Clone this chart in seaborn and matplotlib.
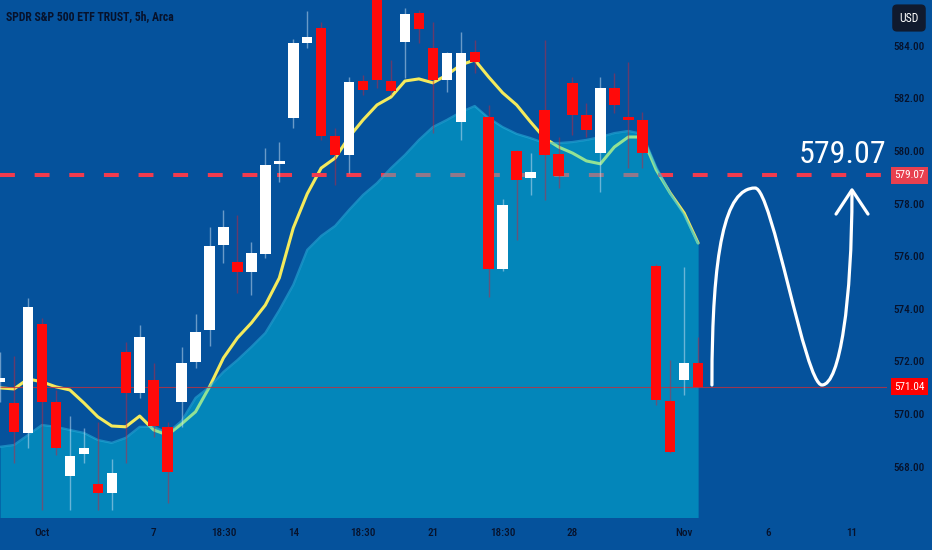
import numpy as np
import pandas as pd
import matplotlib
matplotlib.use("Agg")
import matplotlib.pyplot as plt
import seaborn as sns
from matplotlib import font_manager
from matplotlib.path import Path
from matplotlib.patches import PathPatch
import matplotlib.transforms as mtransforms

# ---------------- data ----------------
title = "SPDR S&P 500 ETF TRUST, 5h, Arca"

opens = [571.22, 570.42, 569.28, 573.42, 570.46, 567.64, 568.48, 567.34, 567.00, 572.36,
         570.80, 571.29, 569.51, 570.46, 571.98, 573.19, 576.43, 575.78, 575.40, 576.08,
         579.51, 581.25, 584.11, 584.68, 580.57, 579.85, 582.66, 585.93, 582.66, 584.14,
         585.25, 583.92, 582.70, 581.10, 583.76, 581.29, 575.51, 580.00, 578.97, 581.56,
         579.89, 582.59, 581.37, 579.92, 582.40, 581.29, 581.18, 575.63, 570.49, 571.29,
         571.94]
highs = [572.36, 572.21, 574.41, 573.65, 570.91, 569.92, 569.47, 569.70, 568.29, 572.74,
         573.38, 571.94, 569.70, 572.55, 573.80, 577.11, 577.76, 577.57, 576.54, 580.11,
         580.34, 584.26, 585.32, 584.90, 580.87, 582.81, 582.89, 586.12, 583.46, 585.44,
         585.36, 584.90, 583.76, 584.52, 584.22, 581.75, 578.17, 580.05, 579.92, 584.22,
         580.53, 582.81, 581.83, 582.81, 582.97, 583.38, 581.48, 575.70, 572.05, 575.59,
         572.93]
lows = [570.46, 568.14, 568.71, 566.35, 568.44, 566.35, 568.14, 566.35, 566.35, 568.14,
        570.61, 569.13, 566.62, 569.51, 571.75, 572.59, 575.74, 574.60, 574.52, 575.93,
        578.82, 580.87, 583.92, 580.42, 578.71, 579.16, 582.13, 582.40, 582.13, 582.78,
        584.11, 580.68, 582.24, 580.42, 582.97, 574.45, 575.44, 576.62, 578.33, 578.14,
        578.59, 580.61, 580.53, 578.44, 581.44, 579.35, 579.35, 570.34, 568.50, 570.72,
        571.03]
closes = [571.37, 569.32, 574.07, 570.46, 568.71, 568.40, 568.71, 567.00, 567.76, 570.80,
          572.93, 569.54, 567.79, 571.94, 573.12, 576.39, 577.11, 575.40, 576.12, 579.47,
          579.62, 584.11, 584.33, 580.57, 579.85, 582.62, 582.32, 582.70, 582.28, 585.21,
          584.64, 582.70, 583.73, 583.73, 583.38, 575.51, 577.95, 578.90, 579.20, 579.85,
          579.05, 581.37, 580.80, 582.40, 581.75, 581.18, 579.92, 570.53, 568.56, 571.94,
          571.04]
ema_fast = [570.99, 570.95, 571.33, 571.22, 571.03, 570.91, 570.42, 569.89, 569.54, 569.51,
            569.92, 569.39, 569.20, 569.62, 570.08, 571.03, 572.13, 572.89, 573.46, 574.14,
            575.17, 577.07, 578.37, 579.35, 579.73, 580.53, 581.18, 581.75, 582.05, 582.66,
            582.74, 582.59, 582.89, 583.27, 583.46, 582.81, 582.21, 581.75, 581.10, 580.49,
            580.15, 579.92, 579.62, 579.51, 580.15, 580.53, 580.53, 579.28, 578.40, 577.64,
            576.50]
area_slow = [568.75, 568.82, 569.20, 569.58, 569.51, 569.39, 569.28, 569.01, 568.90, 569.09,
             569.51, 569.51, 569.28, 569.73, 570.61, 571.03, 571.60, 572.05, 572.55, 573.08,
             573.95, 574.91, 576.24, 576.77, 577.15, 577.76, 578.33, 578.78, 579.35, 579.85,
             580.42, 580.91, 581.18, 581.48, 581.71, 581.25, 580.91, 580.65, 580.49, 580.30,
             580.30, 580.34, 580.42, 580.53, 580.68, 580.76, 580.65, 579.39, 578.40, 577.57,
             576.50]

last_price = 571.04
target_price = 579.07
target_text = "579.07"
currency = "USD"

y_ticks = [568, 570, 572, 574, 576, 578, 580, 582, 584]
x_tick_pos = [3, 11, 16, 21, 26, 31, 36, 41, 49, 55, 61]
x_tick_labels = ["Oct", "7", "18:30", "14", "18:30", "21", "18:30", "28", "Nov", "6", "11"]

# hand-drawn projection (bar index, price): start, peak, trough, end
proj_start = (50.99, 571.10)
proj_peak = (54.08, 578.59)
proj_trough = (58.87, 571.10)
proj_end = (61.02, 578.44)

# ---------------- style ----------------
BG = "#05529c"
FILL = "#00d6e9"
EDGE = "#2ab6de"
YEL = "#f4ea5c"
RED = "#ff0a0a"
DASH = "#f23b4e"
TXT = "#07122b"

sns.set_theme(style="dark", rc={
    "axes.facecolor": BG, "figure.facecolor": BG,
    "axes.edgecolor": BG, "grid.color": BG,
})

fonts = font_manager.fontManager.ttflist
cond = None
for nm in ["Roboto Condensed", "Liberation Sans Narrow", "Open Sans Condensed"]:
    if any(f.name == nm for f in fonts):
        cond = nm
        break
stretch = "normal"
if cond is None:
    if any(f.name == "DejaVu Sans" and f.stretch == "condensed" for f in fonts):
        cond, stretch = "DejaVu Sans", "condensed"
    else:
        cond = "Roboto"
plt.rcParams["font.family"] = [cond, "DejaVu Sans"]
plt.rcParams["font.stretch"] = stretch

fig = plt.figure(figsize=(9.32, 5.5), dpi=100)
ax = fig.add_axes([0, 33 / 550, 887 / 932, 517 / 550])
ax.set_facecolor(BG)

n = len(closes)
idx = np.arange(n)
df = pd.DataFrame({"bar": idx, "ema": ema_fast, "area": area_slow,
                   "open": opens, "high": highs, "low": lows, "close": closes})

# fast average line (under the translucent area)
sns.lineplot(data=df, x="bar", y="ema", ax=ax, color=YEL, lw=2.2, zorder=2,
             legend=False)

# target dashed line + last price thin line
ax.axhline(target_price, color=DASH, lw=2.9, ls=(0, (3.7, 4.9)), zorder=2)
ax.axhline(last_price, color="#c0303f", lw=0.8, alpha=0.8, zorder=3.5)

# slow average area
ymin, ymax = 566.08, 585.74
ax.fill_between(df["bar"], df["area"], ymin - 1, color=FILL, alpha=0.4, lw=0, zorder=3)
sns.lineplot(data=df, x="bar", y="area", ax=ax, color=EDGE, lw=1.6, alpha=0.55,
             zorder=3, legend=False)

# candles
up = df["close"] >= df["open"]
for is_up, col, wcol, walpha in [(True, "white", "#cfe3f5", 0.5), (False, RED, "#c8243c", 0.5)]:
    sub = df[up == is_up]
    ax.vlines(sub["bar"], sub["low"], sub["high"], color=wcol, lw=1.0, alpha=walpha, zorder=4)
    bottom = np.minimum(sub["open"], sub["close"])
    height = np.maximum(np.abs(sub["close"] - sub["open"]), 0.12)
    ax.bar(sub["bar"], height, bottom=bottom, width=0.75, color=col, lw=0, zorder=5)

# projection curve
P0, P1, P2, P3 = proj_start, proj_peak, proj_trough, proj_end
verts = [P0, (P0[0], 576.24), (51.93, P1[1]), P1,
         (55.29, P1[1]), (57.66, P2[1]), P2,
         (60.16, P2[1]), (P3[0], 574.33), P3]
codes = [Path.MOVETO] + [Path.CURVE4] * 9
ax.add_patch(PathPatch(Path(verts, codes), fc="none", ec="white", lw=2.3, zorder=6,
                       capstyle="round"))
tip = (P3[0], P3[1] + 0.08)
ax.plot([59.88, tip[0], 62.17], [577.60, tip[1], 577.60], color="white", lw=2.3,
        zorder=6, solid_capstyle="round", solid_joinstyle="round")
ax.text(60.35, 579.85, target_text, color="white", fontsize=23, ha="center",
        va="center", zorder=7)

# axes
ax.set_xlim(-0.007, 63.53)
ax.set_ylim(ymin, ymax)
ax.yaxis.tick_right()
ax.set_yticks(y_ticks)
ax.set_yticklabels([f"{v:.2f}" for v in y_ticks])
ax.set_xticks(x_tick_pos)
ax.set_xticklabels(x_tick_labels)
ax.tick_params(axis="y", length=0, pad=4.5, labelsize=8, labelcolor=TXT)
ax.tick_params(axis="x", length=0, pad=8, labelsize=8, labelcolor=TXT)
for lab in ax.get_xticklabels() + ax.get_yticklabels():
    lab.set_fontweight("medium")
ax.set_xlabel("")
ax.set_ylabel("")
ax.grid(False)
for s in ax.spines.values():
    s.set_visible(False)

# price labels on the scale
trans = mtransforms.blended_transform_factory(ax.transAxes, ax.transData)
ax.text(1.0 + 7 / 887, target_price, target_text, transform=trans, ha="left", va="center",
        color="white", fontsize=8, clip_on=False, zorder=8,
        bbox=dict(boxstyle="square,pad=0.3", fc="#e8404f", ec="none"))
ax.text(1.0 + 7 / 887, last_price, f"{last_price:.2f}", transform=trans, ha="left",
        va="center", color="white", fontsize=8, clip_on=False, zorder=8,
        bbox=dict(boxstyle="square,pad=0.3", fc="#ff0000", ec="none"))

fig.text(909 / 932, 1 - 18 / 550, currency, color="white", fontsize=8.5, ha="center",
         va="center", bbox=dict(boxstyle="round,pad=0.6,rounding_size=0.4",
                                fc="#101a2e", ec="none"))
fig.text(6 / 932, 1 - 17 / 550, title, color=TXT, fontsize=8.5, fontweight="bold",
         ha="left", va="center")

fig.savefig("out.png", dpi=100, facecolor=BG)
